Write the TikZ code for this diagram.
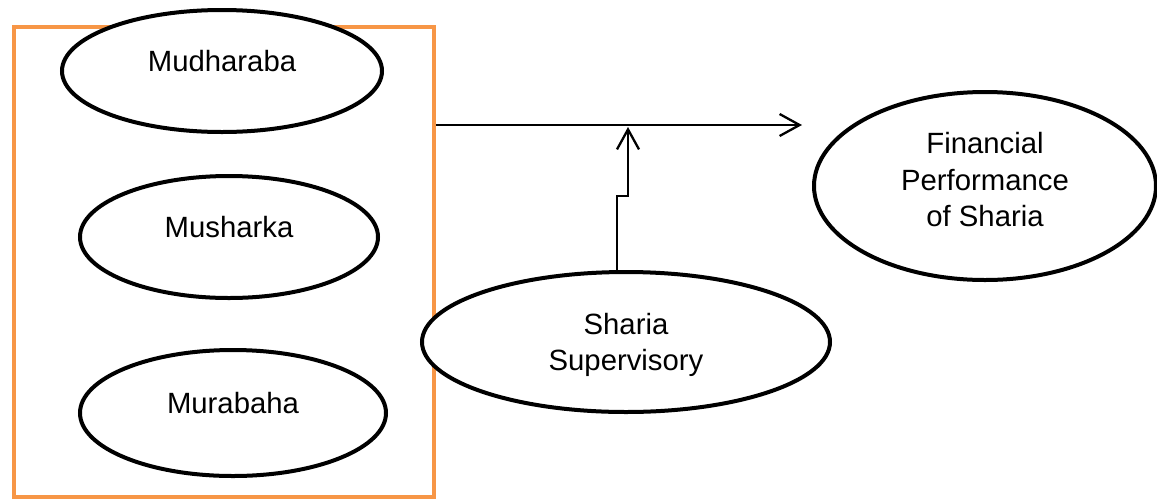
\documentclass[tikz,border=0pt]{standalone}
\usepackage{fontspec}
\setmainfont{Liberation Sans}
\usetikzlibrary{shapes.geometric,arrows.meta}
\definecolor{boxorange}{HTML}{F79646}
\begin{document}
\begin{tikzpicture}[x=1pt,y=-1pt,
  oval/.style={ellipse,draw=black,line width=4pt,fill=white,inner sep=0pt,align=center,
    font=\fontsize{29.3}{36.5}\selectfont},
  single/.style={text height=10pt,text depth=10pt},
  conn/.style={line width=2.3pt,-{Straight Barb[length=20pt,width=22pt]}},
]
\useasboundingbox (0,0) rectangle (1157,499);
\node[draw=boxorange,line width=4.3pt,minimum width=420pt,minimum height=470pt,inner sep=0pt] (box) at (224,262) {};
\node[oval,single,minimum width=320pt,minimum height=122pt] (mud) at (222,71) {Mudharaba};
\node[oval,single,minimum width=298pt,minimum height=122pt] (mus) at (229,237) {Musharka};
\node[oval,single,minimum width=306pt,minimum height=126pt] (mur) at (233,413) {Murabaha};
\node[oval,text depth=13pt,minimum width=342pt,minimum height=188pt] (fin) at (985,186) {Financial\\Performance\\of Sharia};
\node[oval,text height=64pt,minimum width=408pt,minimum height=140pt] (sup) at (626,342) {Sharia\\Supervisory};
\coordinate (tgt) at (802,125);
\coordinate (mid) at (628,127);
\draw[conn] (box.east |- tgt) -- (tgt);
\draw[conn] ([xshift=-9pt]sup.north) -- ++(0,-74) -- ++(11,0) -- (mid);
\end{tikzpicture}
\end{document}
